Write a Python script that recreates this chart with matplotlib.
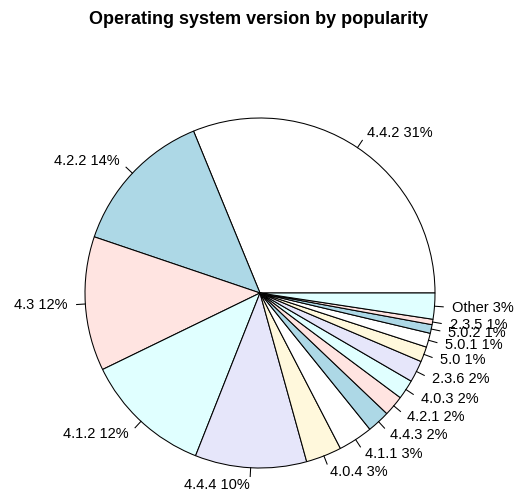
import numpy as np
import matplotlib
matplotlib.use("Agg")
import matplotlib.pyplot as plt

# values (fraction of the pie)
versions = ["4.4.2", "4.2.2", "4.3", "4.1.2", "4.4.4", "4.0.4", "4.1.1", "4.4.3",
            "4.2.1", "4.0.3", "2.3.6", "5.0", "5.0.1", "5.0.2", "2.3.5", "Other"]
shares = [0.312, 0.136, 0.124, 0.118, 0.103, 0.033, 0.032, 0.021,
          0.019, 0.018, 0.020, 0.014, 0.013, 0.008, 0.005, 0.024]
pct_labels = ["31%", "14%", "12%", "12%", "10%", "3%", "3%", "2%",
              "2%", "2%", "2%", "1%", "1%", "1%", "1%", "3%"]
palette = ["#FFFFFF", "#ADD8E6", "#FFE4E1", "#E0FFFF", "#E6E6FA", "#FFF8DC"]

W, H, dpi = 517, 490, 100
cx, cy, R = 260, 293, 175  # pie centre and radius, pixels

plt.rcParams["font.family"] = ["Liberation Sans", "DejaVu Sans"]
fig = plt.figure(figsize=(W / dpi, H / dpi), dpi=dpi)
fig.patch.set_facecolor("white")
ax = fig.add_axes([0, 0, 1, 1])

colors = [palette[i % len(palette)] for i in range(len(shares))]
wedges, _ = ax.pie(
    shares, colors=colors, startangle=0, counterclock=True, radius=1,
    wedgeprops=dict(edgecolor="black", linewidth=0.75), frame=True,
)
# axis units = pie radii, origin at pie centre
ax.set_xlim(-cx / R, (W - cx) / R)
ax.set_ylim(-(H - cy) / R, cy / R)
ax.set_aspect("auto")
ax.set_axis_off()

for w, v, p in zip(wedges, versions, pct_labels):
    a = np.deg2rad((w.theta1 + w.theta2) / 2)
    x, y = np.cos(a), np.sin(a)
    ax.plot([x, 1.05 * x], [y, 1.05 * y], color="black", lw=0.75, clip_on=False)
    ax.text(1.1 * x, 1.1 * y, f"{v} {p}", ha="left" if x >= 0 else "right",
            va="center", fontsize=10.5, clip_on=False)

fig.text(0.5, 1 - 24 / H, "Operating system version by popularity",
         ha="center", va="baseline", fontsize=13, fontweight="bold")

fig.savefig("out.png", dpi=dpi, facecolor="white")
